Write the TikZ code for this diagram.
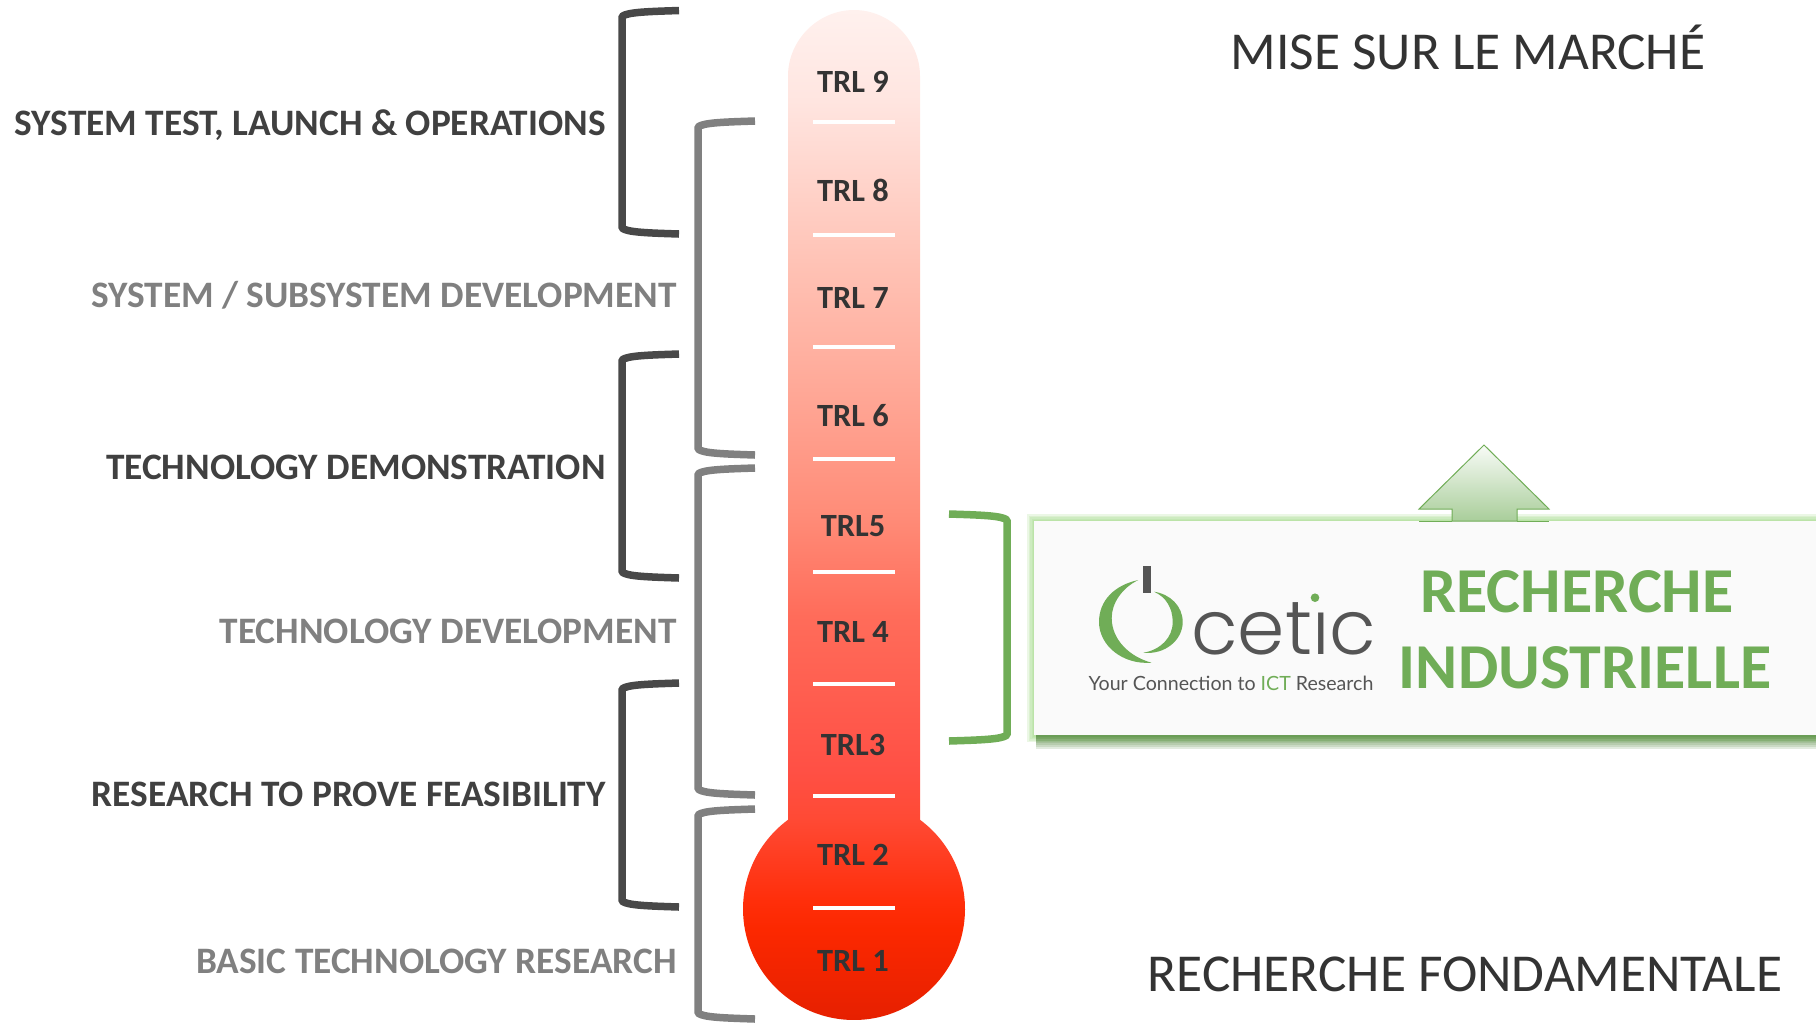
\documentclass[tikz,border=0pt]{standalone}
\usepackage{fontspec}
\setmainfont{Carlito}
\newfontfamily\logofont{Poppins}[UprightFont=* Light]
\newfontfamily\tagfont{Lato}
\usetikzlibrary{shadings}
\definecolor{gA}{HTML}{E62000}
\definecolor{gB}{HTML}{FC2800}
\definecolor{gC}{HTML}{FF2E0A}
\definecolor{gD}{HTML}{FF4A35}
\definecolor{gE}{HTML}{FF5045}
\definecolor{gF}{HTML}{FF6C5A}
\definecolor{gG}{HTML}{FF8C78}
\definecolor{gH}{HTML}{FFB0A0}
\definecolor{gI}{HTML}{FFC3B6}
\definecolor{gJ}{HTML}{FFE5E0}
\definecolor{gK}{HTML}{FFF1EE}
\definecolor{darkbr}{HTML}{484848}
\definecolor{greybr}{HTML}{808080}
\definecolor{greenbr}{HTML}{70AD57}
\definecolor{glow}{HTML}{9AD67E}
\definecolor{shadowg}{HTML}{4C8236}
\definecolor{logogrey}{HTML}{555555}
% y in px -> pos = 25+50*(1020-y)/1010
\pgfdeclareverticalshading{therm}{100bp}{%
color(0bp)=(gA); color(25bp)=(gA); color(29.5bp)=(gB); color(30.9bp)=(gC);
color(35bp)=(gD); color(37.4bp)=(gE); color(45bp)=(gF); color(50bp)=(gG);
color(58bp)=(gH); color(62.6bp)=(gI); color(70.5bp)=(gJ); color(75bp)=(gK); color(100bp)=(gK)}
\tikzset{
  brk/.style={line width=7.5pt*0.75,line join=round},
  tick/.style={draw=white,line width=4.5pt*0.75},
  trl/.style={anchor=base,inner sep=0pt,font=\fontsize{24.3}{24.3}\selectfont\bfseries,text=black!80},
  lab/.style={anchor=base east,inner sep=0pt,font=\fontsize{28}{28}\selectfont\bfseries},
  big/.style={anchor=base,inner sep=0pt,font=\fontsize{40}{40}\selectfont,text=black!80},
  ind/.style={anchor=base,inner sep=0pt,font=\fontsize{48}{48}\selectfont\bfseries,text=greenbr},
}
\newcommand{\trlbracket}[5][darkbr]{%
  \draw[brk,draw=#1] (#2,#4) .. controls ({#3+28},{#4+1}) and ({#3+5},{#4+1.5}) .. (#3,{#4+6})
    -- (#3,{#5-6}) .. controls ({#3+5},{#5-1.5}) and ({#3+28},{#5-1}) .. (#2,#5);}
\begin{document}
\begin{tikzpicture}[x=0.75pt,y=-0.75pt]
\useasboundingbox (0,0) rectangle (1816,1022);
% thermometer
\shade[shading=therm] (788,820) -- (788,76) .. controls (788,40) and (818,10) .. (854,10)
  .. controls (890,10) and (920,40) .. (920,76) -- (920,820)
  -- plot[domain=-53.4:233.4,samples=140] ({854+111*cos(\x)},{909+111*sin(\x)}) -- cycle;
\foreach \y in {122,235,347,459,572,684,796,908}
  \draw[tick] (813,\y) -- (895,\y);
\node[trl] (t9) at (853,92.5) {TRL 9};
\node[trl] (t8) at (853,201.5) {TRL 8};
\node[trl] (t7) at (853,308.5) {TRL 7};
\node[trl] (t6) at (853,426.5) {TRL 6};
\node[trl] (t5) at (853,536.5) {TRL5};
\node[trl] (t4) at (853,642.5) {TRL 4};
\node[trl] (t3) at (853,755.5) {TRL3};
\node[trl] (t2) at (853,865.5) {TRL 2};
\node[trl] (t1) at (853,971.5) {TRL 1};
% brackets
\trlbracket{679}{622}{10.5}{234}
\trlbracket{679}{622}{354}{578}
\trlbracket{679}{622}{683}{907}
\trlbracket[greybr]{755}{698}{121}{455}
\trlbracket[greybr]{755}{698}{468}{795}
\trlbracket[greybr]{755}{698}{809}{1019}
\draw[brk,draw=greenbr] (949,514) .. controls (979,515) and (1002,515.5) .. (1007,520)
  -- (1007,735) .. controls (1002,739.5) and (979,740) .. (949,741);
% left labels
\node[lab,text=black!75] (l1) at (606,135.5) {SYSTEM TEST, LAUNCH \& OPERATIONS};
\node[lab,text=greybr] (l2) at (677,307.5) {SYSTEM / SUBSYSTEM DEVELOPMENT};
\node[lab,text=black!75] (l3) at (606,479.5) {TECHNOLOGY DEMONSTRATION};
\node[lab,text=greybr] (l4) at (677,643.5) {TECHNOLOGY DEVELOPMENT};
\node[lab,text=black!75] (l5) at (606,806.5) {RESEARCH TO PROVE FEASIBILITY};
\node[lab,text=greybr] (l6) at (677,973.5) {BASIC TECHNOLOGY RESEARCH};
% right labels
\node[big] (top) at (1468,69.5) {MISE SUR LE MARCHÉ};
\node[big] (bot) at (1465,991.5) {RECHERCHE FONDAMENTALE};
% box glow and shadow
\foreach \i in {7,5.5,4,2.5,1.5}
  \fill[glow,opacity=.2] ({1034-\i},{521-\i}) rectangle (1816,{735+\i});
\foreach \j in {2,4,6,8,10,12,14}
  \fill[shadowg,opacity=.16] (1036,735) rectangle (1816,{735+\j});
\fill[white!98!black] (1034,521) rectangle (1816,735);
% arrow
\shade[top color=white!95!greenbr,bottom color=greenbr!60,draw=greenbr,line width=0.75pt]
  (1484,445) -- (1549,509) -- (1517,509) -- (1517,521) -- (1452,521) -- (1452,509) -- (1419,509) -- cycle;
\draw[greenbr,line width=0.75pt] (1419,521) -- (1452,521) (1517,521) -- (1549,521);
% logo
\fill[greenbr] (1138.3,580) .. controls (1115,585) and (1099,600) .. (1099,622)
  .. controls (1099,645) and (1122,665) .. (1151.7,662.7)
  .. controls (1130,657) and (1111.7,640) .. (1111.7,618)
  .. controls (1111.7,603) and (1122,588) .. (1138.3,580) -- cycle;
\fill[greenbr] (1154,591.7) .. controls (1170,594) and (1182.7,606) .. (1182.7,622)
  .. controls (1182.7,640) and (1165,655) .. (1143.3,652.7)
  .. controls (1160,650) and (1172.7,638) .. (1172.7,622)
  .. controls (1172.7,608) and (1166,597) .. (1154,591.7) -- cycle;
\fill[logogrey] (1142.7,566) rectangle (1150.7,593.3);
\node[anchor=base west,inner sep=0pt,text=logogrey,font=\logofont\fontsize{57}{57}\selectfont] (cetic) at (1191,654) {cetıc};
\fill[greenbr] (1315,597.7) circle[radius=4.3];
\node[anchor=base,inner sep=0pt,text=logogrey,font=\tagfont\fontsize{14.7}{14.7}\selectfont] (tag) at (1231,690)
  {Your Connection to \textcolor{greenbr}{ICT} Research};
% box text
\node[ind] (r1) at (1577,612) {RECHERCHE};
\node[ind] (r2) at (1585,688) {INDUSTRIELLE};
\end{tikzpicture}
\end{document}
